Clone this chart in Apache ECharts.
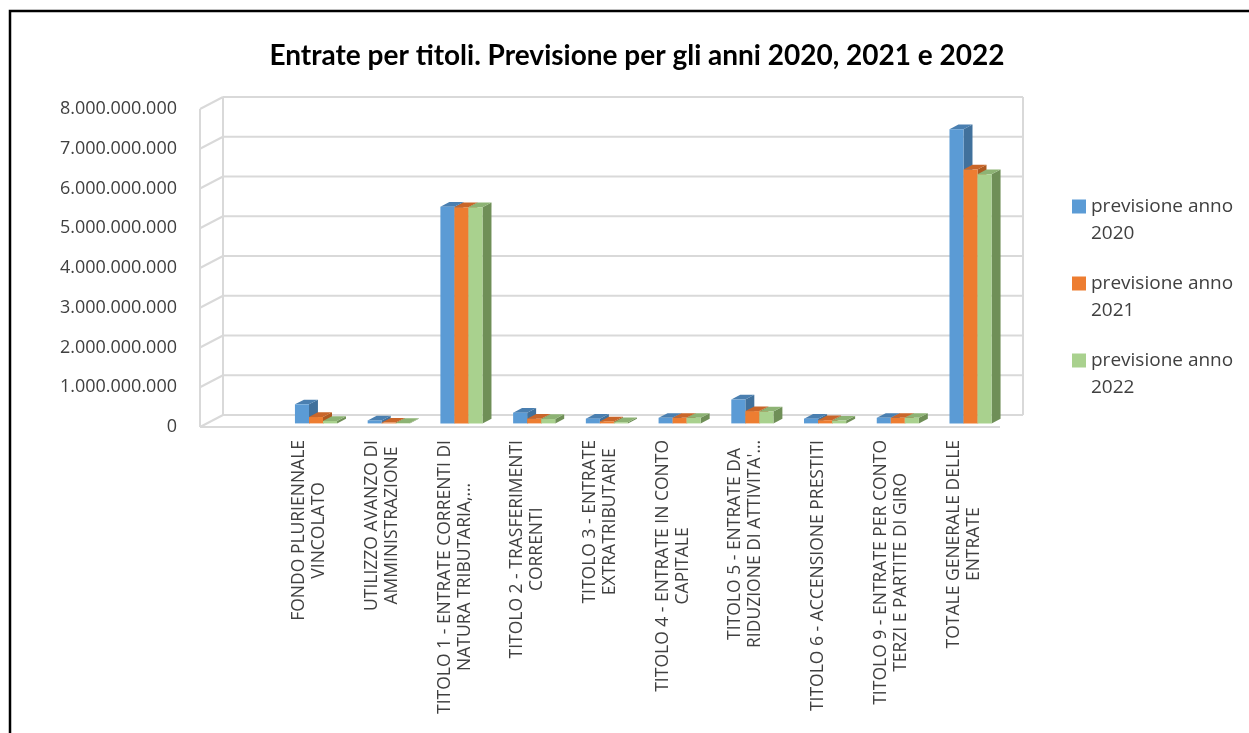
<!DOCTYPE html>
<html>
<head>
<meta charset="utf-8">
<script src="https://cdn.jsdelivr.net/npm/echarts@6/dist/echarts.min.js"></script>
<style>
  html, body { margin: 0; padding: 0; background: #ffffff; }
  #chart { width: 1249px; height: 733px; }
</style>
</head>
<body>
<div id="chart"></div>
<script>
// Budget revenue by "titolo", forecast for 2020, 2021 and 2022 (euro)
const categories = [
  'FONDO PLURIENNALE\nVINCOLATO',
  'UTILIZZO AVANZO DI\nAMMINISTRAZIONE',
  'TITOLO 1 - ENTRATE CORRENTI DI\nNATURA TRIBUTARIA,…',
  'TITOLO 2 - TRASFERIMENTI\nCORRENTI',
  'TITOLO 3 - ENTRATE\nEXTRATRIBUTARIE',
  'TITOLO 4 - ENTRATE IN CONTO\nCAPITALE',
  "TITOLO 5 - ENTRATE DA\nRIDUZIONE DI ATTIVITA'…",
  'TITOLO 6 - ACCENSIONE PRESTITI',
  'TITOLO 9 - ENTRATE PER CONTO\nTERZI E PARTITE DI GIRO',
  'TOTALE GENERALE DELLE\nENTRATE'
];
const seriesNames = ['previsione anno 2020', 'previsione anno 2021', 'previsione anno 2022'];
const prev2020 = [480000000, 75000000, 5450000000, 270000000, 120000000, 140000000, 600000000, 120000000, 140000000, 7400000000];
const prev2021 = [160000000, 20000000, 5440000000, 120000000, 50000000, 140000000, 310000000, 80000000, 140000000, 6390000000];
const prev2022 = [60000000, 10000000, 5440000000, 110000000, 30000000, 140000000, 300000000, 70000000, 140000000, 6270000000];
const yTicks = [0, 1000000000, 2000000000, 3000000000, 4000000000, 5000000000, 6000000000, 7000000000, 8000000000];

const titleText = 'Entrate per titoli. Previsione per gli anni 2020, 2021 e 2022';

// the axis has one leading empty slot before the first category
const axisCategories = [''].concat(categories);

const faceColors = ['#5b9bd5', '#ed7d31', '#a9d18e'];
const topColors  = ['#4a7fb0', '#c9662a', '#8db374'];
const sideColors = ['#41719c', '#ae5a21', '#6f8f57'];

// projection of the depth axis: back wall offset, and where the bars sit in depth
const WALL_DX = 23, WALL_DY = -12;
const BAR_POS = 0.3;     // depth of the bars' front face (fraction of the wall depth)
const BAR_DEPTH = 0.39;  // thickness of the bars in depth
const BAR_FRACTION = 0.193; // width of one bar relative to the category band

function fmtThousands(v) {
  return String(v).replace(/\B(?=(\d{3})+(?!\d))/g, '.');
}

const chart = echarts.init(document.getElementById('chart'), null, { renderer: 'canvas' });

// walls and floor of the pseudo-3D frame, one element per y tick
function renderWalls(params, api) {
  const v = api.value(0);
  const cs = params.coordSys;
  const x0 = cs.x, x1 = cs.x + cs.width;
  const y = api.coord([0, v])[1];
  const yTop = api.coord([0, yTicks[yTicks.length - 1]])[1];
  const yBase = api.coord([0, 0])[1];
  const line = { stroke: '#d9d9d9', lineWidth: 2 };
  const children = [
    { type: 'line', shape: { x1: x0 + WALL_DX, y1: y + WALL_DY, x2: x1 + WALL_DX, y2: y + WALL_DY }, style: line },
    { type: 'line', shape: { x1: x0, y1: y, x2: x0 + WALL_DX, y2: y + WALL_DY }, style: line }
  ];
  if (v === 0) {
    children.push(
      { type: 'line', shape: { x1: x0, y1: yBase, x2: x1, y2: yBase }, style: line },
      { type: 'line', shape: { x1: x0, y1: yTop, x2: x0, y2: yBase }, style: line },
      { type: 'line', shape: { x1: x0 + WALL_DX, y1: yTop + WALL_DY, x2: x0 + WALL_DX, y2: yBase + WALL_DY }, style: line },
      { type: 'line', shape: { x1: x1 + WALL_DX, y1: yTop + WALL_DY, x2: x1 + WALL_DX, y2: yBase + WALL_DY }, style: line }
    );
  }
  return { type: 'group', children: children };
}

// one 3D-looking column: front face, top face and right side face
function makeBarRenderer(k) {
  return function (params, api) {
    const idx = api.value(0);
    const val = api.value(1);
    const band = api.size([1, 0])[0];
    const bw = band * BAR_FRACTION;
    const sx = WALL_DX * BAR_POS, sy = WALL_DY * BAR_POS;
    const dx = WALL_DX * BAR_DEPTH, dy = WALL_DY * BAR_DEPTH;
    const base = api.coord([idx, 0]);
    const top = api.coord([idx, val]);
    const left = base[0] + sx - 1.5 * bw + k * bw;
    const right = left + bw;
    const yT = top[1] + sy;
    const yB = base[1] + sy;
    return {
      type: 'group',
      children: [
        { type: 'polygon', shape: { points: [[right, yT], [right + dx, yT + dy], [right + dx, yB + dy], [right, yB]] },
          style: { fill: sideColors[k] } },
        { type: 'polygon', shape: { points: [[left, yT], [left + dx, yT + dy], [right + dx, yT + dy], [right, yT]] },
          style: { fill: topColors[k] } },
        { type: 'rect', shape: { x: left, y: yT, width: bw, height: yB - yT },
          style: { fill: faceColors[k] } }
      ]
    };
  };
}

const yearValues = [prev2020, prev2021, prev2022];

const barSeries = yearValues.map(function (vals, k) {
  return {
    type: 'custom',
    name: seriesNames[k],
    renderItem: makeBarRenderer(k),
    itemStyle: { color: faceColors[k] },
    encode: { x: 0, y: 1 },
    clip: false,
    z: 3,
    data: vals.map(function (v, i) { return [i + 1, v]; })
  };
});

const option = {
  backgroundColor: '#ffffff',
  animation: false,
  title: {
    text: titleText,
    left: 632,
    top: 37,
    textAlign: 'center',
    textStyle: { fontFamily: 'Lato', fontWeight: 'bold', fontSize: 28, color: '#000000' }
  },
  legend: {
    orient: 'vertical',
    left: 1072,
    top: 166,
    padding: 0,
    itemWidth: 14,
    itemHeight: 14,
    itemGap: -4,
    icon: 'rect',
    data: seriesNames,
    // an empty first line keeps the swatch level with the first text line
    formatter: function (name) {
      const m = name.match(/^(.*) (\d{4})$/);
      return '{p| }\n{t|' + m[1] + '}\n{t|' + m[2] + '}';
    },
    textStyle: {
      fontFamily: 'Open Sans', fontSize: 19, color: '#404040', lineHeight: 27,
      rich: {
        p: { fontFamily: 'Open Sans', fontSize: 19, lineHeight: 27 },
        t: { fontFamily: 'Open Sans', fontSize: 19, lineHeight: 27, color: '#404040' }
      }
    }
  },
  grid: { left: 200, top: 109, width: 800, height: 318, containLabel: false },
  xAxis: {
    type: 'category',
    data: axisCategories,
    axisLine: { show: false },
    axisTick: { show: false },
    splitLine: { show: false },
    axisLabel: {
      interval: 0,
      rotate: 90,
      margin: 13,
      color: '#404040',
      fontFamily: 'Open Sans',
      fontSize: 17.5,
      lineHeight: 20,
      formatter: function (value) {
        if (!value) return '';
        return value.split('\n').map(function (s) { return '{c|' + s + '}'; }).join('\n');
      },
      rich: { c: { align: 'center', fontFamily: 'Open Sans', fontSize: 17.5, lineHeight: 20, color: '#404040' } }
    }
  },
  yAxis: {
    type: 'value',
    min: 0,
    max: 8000000000,
    interval: 1000000000,
    axisLine: { show: false },
    axisTick: { show: false },
    splitLine: { show: false },
    axisLabel: {
      margin: 23,
      color: '#404040',
      fontFamily: 'Open Sans',
      fontSize: 18,
      formatter: fmtThousands
    }
  },
  graphic: [
    { type: 'rect', shape: { x: 10, y: 11, width: 1400, height: 900 },
      style: { fill: null, stroke: '#000000', lineWidth: 2.5 }, z: 10, silent: true }
  ],
  series: [
    {
      type: 'custom',
      name: 'walls',
      renderItem: renderWalls,
      encode: { y: 0 },
      clip: false,
      silent: true,
      z: 1,
      data: yTicks.map(function (v) { return [v]; })
    }
  ].concat(barSeries)
};

chart.setOption(option);
</script>
</body>
</html>
